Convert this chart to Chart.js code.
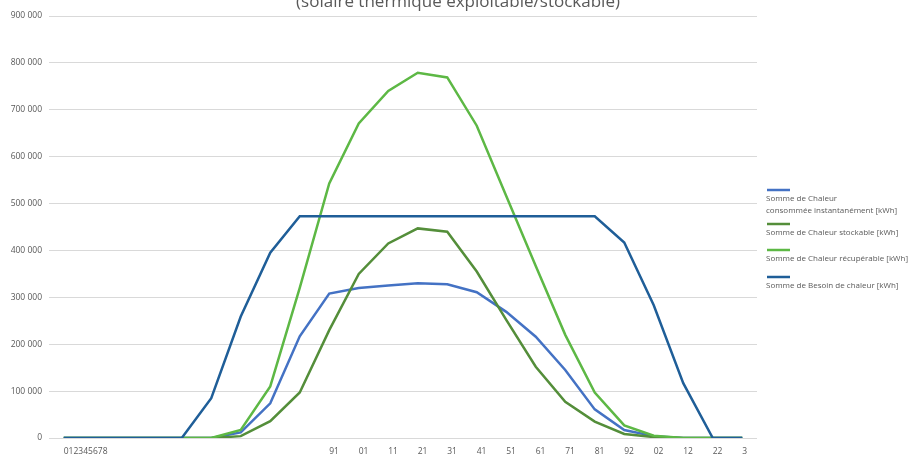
<!DOCTYPE html>
<html>
<head>
<meta charset="utf-8">
<script src="https://cdn.jsdelivr.net/npm/chart.js@4.4.0/dist/chart.umd.min.js"></script>
<style>
  html, body { margin: 0; padding: 0; background: #fff; }
  #wrap { width: 912px; height: 455px; position: relative; }
</style>
</head>
<body>
<div id="wrap"><canvas id="fig_container"></canvas></div>
<script>
// x labels as they show on the picture (one per hour point)
const hours = ["012345678", "", "", "", "", "", "", "", "", "91", "01", "11", "21", "31", "41", "51", "61", "71", "81", "92", "02", "12", "22", "3"];

const consommee = [0, 0, 0, 0, 0, 0, 12000, 74000, 217000, 308000, 320000, 325000, 330000, 328000, 311000, 269000, 216000, 145000, 61000, 17000, 4000, 0, 0, 0];
const stockable = [0, 0, 0, 0, 0, 0, 4000, 36000, 97000, 230000, 350000, 415000, 447000, 440000, 355000, 252000, 152000, 77000, 35000, 8500, 2000, 0, 0, 0];
const recuperable = [0, 0, 0, 0, 0, 0, 17000, 110000, 320000, 543000, 671000, 740000, 779000, 769000, 666000, 516000, 367000, 220000, 97000, 27000, 5000, 0, 0, 0];
const besoin = [0, 0, 0, 0, 0, 85000, 259000, 395000, 473000, 473000, 473000, 473000, 473000, 473000, 473000, 473000, 473000, 473000, 473000, 417000, 283000, 117000, 0, 0];

const legend_lines = [
    ["Somme de Chaleur", "consommée instantanément [kWh]"],
    ["Somme de Chaleur stockable [kWh]"],
    ["Somme de Chaleur récupérable [kWh]"],
    ["Somme de Besoin de chaleur [kWh]"]
];
const title_text = "(solaire thermique exploitable/stockable)";

const colors = ['#4472C4', '#548E3A', '#5DB845', '#1F5E98'];

// title + legend drawn by hand, like the spreadsheet does it
const extras = {
    id: 'extras',
    afterDraw(chart) {
        const ctx = chart.ctx;
        ctx.save();
        ctx.fillStyle = '#595959';
        ctx.font = "17px 'Open Sans'";
        ctx.textAlign = 'center';
        ctx.textBaseline = 'alphabetic';
        ctx.fillText(title_text, 458, 7);

        ctx.font = "8px 'Open Sans'";
        ctx.textAlign = 'left';
        ctx.textBaseline = 'middle';
        const lineY = [190, 224, 250, 277];
        legend_lines.forEach((lines, i) => {
            ctx.strokeStyle = colors[i];
            ctx.lineWidth = 2.5;
            ctx.beginPath();
            ctx.moveTo(767, lineY[i]);
            ctx.lineTo(790, lineY[i]);
            ctx.stroke();
            lines.forEach((t, k) => {
                ctx.fillText(t, 766, lineY[i] + 9 + k * 12);
            });
        });
        ctx.restore();
    }
};

const make_chart = () => {
    const ds = (label, data, color, order) => ({
        label: label,
        data: data,
        borderColor: color,
        backgroundColor: color,
        borderWidth: 2.5,
        pointRadius: 0,
        tension: 0,
        order: order
    });

    new Chart(document.getElementById('fig_container').getContext('2d'), {
        type: 'line',
        data: {
            labels: hours,
            datasets: [
                ds("Somme de Chaleur consommée instantanément [kWh]", consommee, colors[0], 3),
                ds("Somme de Chaleur stockable [kWh]", stockable, colors[1], 2),
                ds("Somme de Chaleur récupérable [kWh]", recuperable, colors[2], 1),
                ds("Somme de Besoin de chaleur [kWh]", besoin, colors[3], 0)
            ]
        },
        options: {
            responsive: true,
            maintainAspectRatio: false,
            animation: false,
            layout: { padding: { top: 16, right: 155, left: 0, bottom: 0 } },
            plugins: {
                legend: { display: false },
                title: { display: false },
                tooltip: { enabled: false }
            },
            scales: {
                x: {
                    offset: true,
                    grid: { display: false, drawTicks: false },
                    border: { display: false },
                    ticks: {
                        autoSkip: false,
                        maxRotation: 0,
                        align: 'start',
                        padding: 8,
                        color: '#595959',
                        font: { family: "'Open Sans'", size: 8.5 }
                    },
                    afterFit: (axis) => { axis.height = 17; }
                },
                y: {
                    min: 0,
                    max: 900000,
                    grid: { color: '#D9D9D9', lineWidth: 1, drawTicks: false },
                    border: { display: false },
                    ticks: {
                        stepSize: 100000,
                        padding: 7,
                        color: '#595959',
                        font: { family: "'Open Sans'", size: 8.5 },
                        callback: (v) => v === 0 ? '0' : String(v).replace(/(\d)(?=(\d{3})+$)/g, '$1 ')
                    },
                    afterFit: (axis) => { axis.width = 49; }
                }
            }
        },
        plugins: [extras]
    });
}

make_chart();
</script>
</body>
</html>
